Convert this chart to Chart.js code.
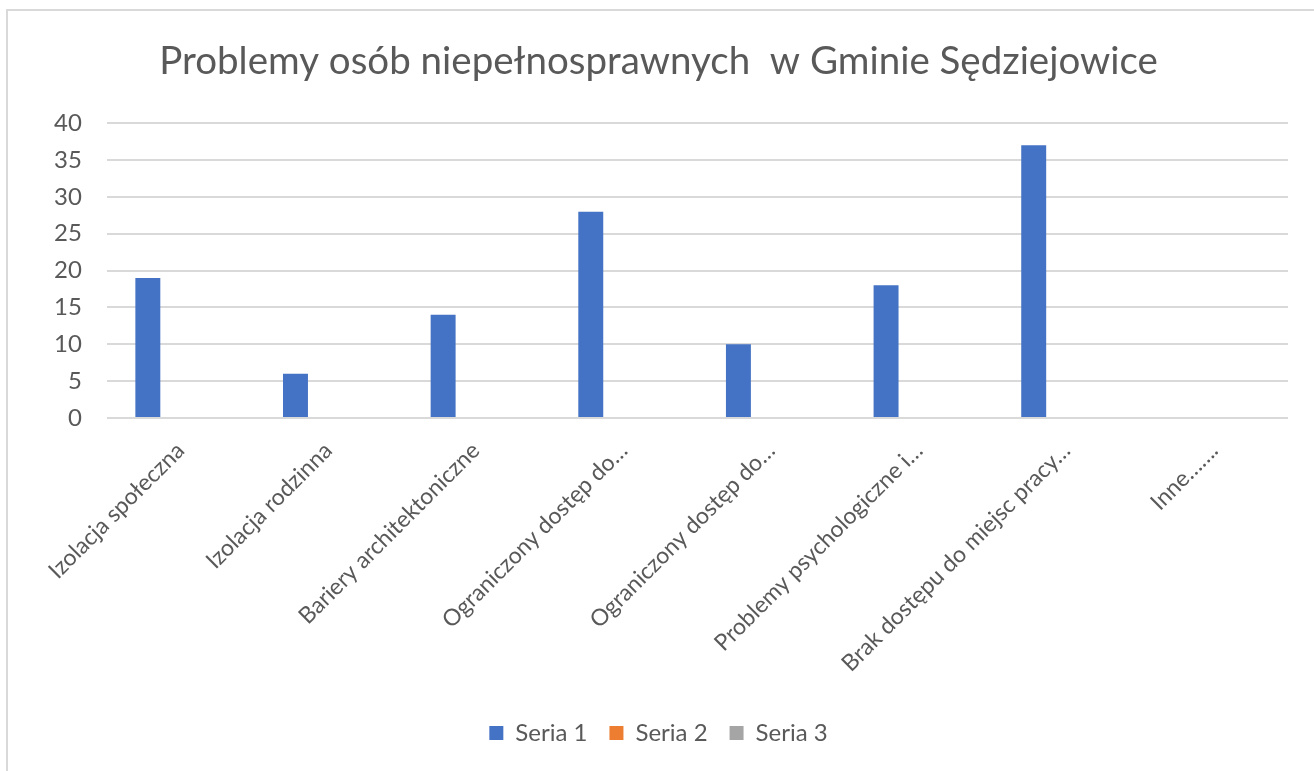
<!DOCTYPE html>
<html>
<head>
<meta charset="utf-8">
<script src="https://cdn.jsdelivr.net/npm/chart.js@4/dist/chart.umd.min.js"></script>
<style>
  html, body { margin: 0; padding: 0; background: #fff; }
  .frame {
    position: absolute; left: 6px; top: 9px;
    width: 1308px; height: 762px;
    border-top: 2px solid #d9d9d9; border-left: 2px solid #d9d9d9;
  }
  .frame canvas { display: block; }
</style>
</head>
<body>
<div class="frame">
  <canvas id="chart" width="1306" height="760"></canvas>
</div>
<script>
// ===== DATA =====
const categories = [
    'Izolacja społeczna',
    'Izolacja rodzinna',
    'Bariery architektoniczne',
    'Ograniczony dostęp do…',
    'Ograniczony dostęp do…',
    'Problemy psychologiczne i…',
    'Brak dostępu do miejsc pracy…',
    'Inne…….'
];
const seria1 = [19, 6, 14, 28, 10, 18, 37, 0];
const seria2 = [null, null, null, null, null, null, null, null];
const seria3 = [null, null, null, null, null, null, null, null];
const yTicks = [0, 5, 10, 15, 20, 25, 30, 35, 40];

const FONT = 'Lato, Carlito, Calibri, sans-serif';
const TXT = '#595959';
const GRID = '#d9d9d9';

const ctx = document.getElementById('chart');
new Chart(ctx, {
    type: 'bar',
    data: {
        labels: categories,
        datasets: [
            { label: 'Seria 1', data: seria1, backgroundColor: '#4472C4' },
            { label: 'Seria 2', data: seria2, backgroundColor: '#ED7D31' },
            { label: 'Seria 3', data: seria3, backgroundColor: '#A5A5A5' }
        ]
    },
    options: {
        responsive: false,
        animation: false,
        datasets: { bar: { categoryPercentage: 0.667, barPercentage: 0.76 } },
        layout: { padding: { left: 21, right: 26, top: 0, bottom: 16 } },
        plugins: {
            title: {
                display: true,
                text: 'Problemy osób niepełnosprawnych  w Gminie Sędziejowice',
                color: TXT,
                font: { family: FONT, size: 38.5, weight: 'normal' },
                padding: { top: 27, bottom: 39 }
            },
            legend: {
                position: 'bottom',
                labels: {
                    color: TXT,
                    boxWidth: 14, boxHeight: 14,
                    padding: 22,
                    font: { family: FONT, size: 24 }
                }
            },
            tooltip: { enabled: false }
        },
        scales: {
            x: {
                grid: { display: false },
                border: { display: false },
                ticks: {
                    color: TXT,
                    minRotation: 45, maxRotation: 45,
                    autoSkip: false,
                    padding: 11,
                    font: { family: FONT, size: 23 }
                },
                afterFit: s => { s.height = 281; }
            },
            y: {
                min: 0, max: 40,
                afterBuildTicks: s => { s.ticks = yTicks.map(v => ({ value: v })); },
                grid: { color: GRID, lineWidth: 2, drawTicks: false },
                border: { display: false },
                ticks: {
                    color: TXT,
                    padding: 25,
                    font: { family: FONT, size: 24 }
                }
            }
        }
    }
});
</script>
</body>
</html>
